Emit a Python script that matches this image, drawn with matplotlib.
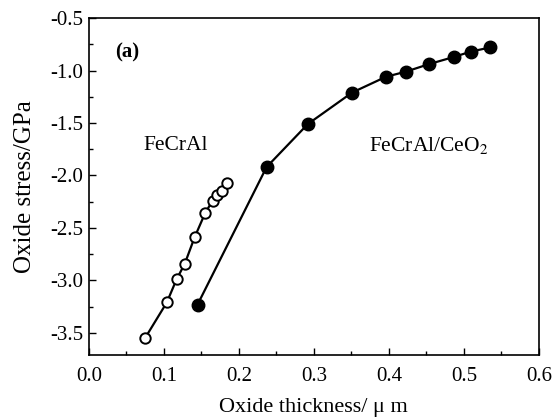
import matplotlib
matplotlib.use("Agg")
import matplotlib.pyplot as plt
from matplotlib.ticker import MultipleLocator

plt.rcParams['font.family'] = ['Liberation Serif', 'DejaVu Serif']
plt.rcParams['mathtext.fontset'] = 'stix'

fecral_x = [0.075, 0.104, 0.117, 0.128, 0.141, 0.155, 0.165, 0.171, 0.177, 0.184]
fecral_y = [-3.55, -3.21, -2.99, -2.84, -2.59, -2.36, -2.24, -2.19, -2.15, -2.07]
ceo2_x = [0.145, 0.237, 0.292, 0.351, 0.396, 0.423, 0.453, 0.487, 0.509, 0.535]
ceo2_y = [-3.23, -1.92, -1.51, -1.21, -1.06, -1.01, -0.94, -0.87, -0.82, -0.78]
xticks = [0.0, 0.1, 0.2, 0.3, 0.4, 0.5, 0.6]
xticklabels = ['0.0', '0.1', '0.2', '0.3', '0.4', '0.5', '0.6']
yticks = [-3.5, -3.0, -2.5, -2.0, -1.5, -1.0, -0.5]
yticklabels = ['-3.5', '-3.0', '-2.5', '-2.0', '-1.5', '-1.0', '-0.5']

fig = plt.figure(figsize=(5.55, 4.2), dpi=100)
ax = fig.add_axes([0.160, 0.155, 0.811, 0.802])

ax.plot(fecral_x, fecral_y, '-o', color='black', lw=1.6, ms=7.5,
        mfc='white', mec='black', mew=1.4)
ax.plot(ceo2_x, ceo2_y, '-o', color='black', lw=1.6, ms=9,
        mfc='black', mec='black')

ax.set_xticks(xticks)
ax.set_xticklabels(xticklabels)
ax.set_yticks(yticks)
ax.set_yticklabels(yticklabels)
ax.xaxis.set_minor_locator(MultipleLocator(0.05))
ax.yaxis.set_minor_locator(MultipleLocator(0.25))
ax.set_xlim(0.0, 0.6)
ax.set_ylim(-3.71, -0.5)
ax.tick_params(which='both', direction='in', top=False, right=False,
               labelsize=15)
ax.tick_params(axis='x', which='major', pad=9)
ax.tick_params(axis='y', which='major', pad=4)
ax.tick_params(which='major', length=5, width=1)
ax.tick_params(which='minor', length=3, width=1)
for s in ax.spines.values():
    s.set_linewidth(1.2)

ax.set_xlabel('Oxide thickness/ μ m', fontsize=16, labelpad=8)
ax.set_ylabel('Oxide stress/GPa', fontsize=18, labelpad=10)

ax.text(0.051, -0.83, '(a)', fontsize=15, fontweight='bold', ha='center', va='center')
ax.text(0.116, -1.71, 'FeCrAl', fontsize=15.5, ha='center', va='center')
ax.text(0.453, -1.71, 'FeCrAl/CeO$_2$', fontsize=15.5, ha='center', va='center')

fig.savefig('out.png', dpi=100)
